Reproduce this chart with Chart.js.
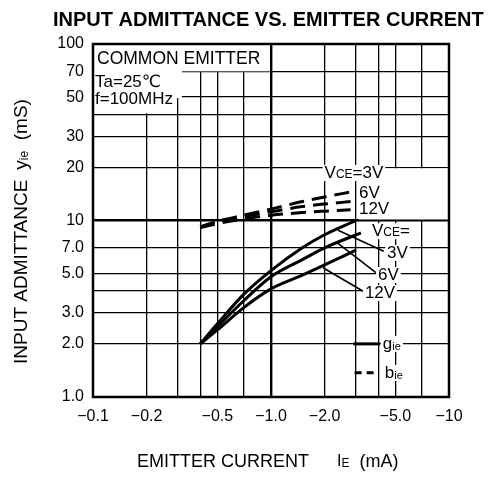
<!DOCTYPE html>
<html>
<head>
<meta charset="utf-8">
<script src="https://cdn.jsdelivr.net/npm/chart.js@4/dist/chart.umd.min.js"></script>
<style>
  html, body { margin: 0; padding: 0; background: #fff; }
</style>
</head>
<body>
<canvas id="chart" width="490" height="480"></canvas>
<script>
"use strict";
// grid / tick values (mA and mS, plotted as magnitudes)
var xGrid = [0.1, 0.2, 0.3, 0.4, 0.5, 0.7, 1, 2, 3, 4, 5, 7, 10];
var xTickLabels = ['\u22120.1', '\u22120.2', '', '', '\u22120.5', '', '\u22121.0', '\u22122.0', '', '', '\u22125.0', '', '\u221210'];
var yGrid = [1, 2, 3, 4, 5, 7, 10, 20, 30, 40, 50, 70, 100];
var yTickLabels = ['1.0', '2.0', '3.0', '', '5.0', '7.0', '10', '20', '30', '', '50', '70', '100'];

// gie (solid)
var gieCurrent = [0.4, 0.5, 0.7, 1.0, 1.5, 2.0, 3.0];
var gieCurrent6V = [0.4, 0.5, 0.7, 1.0, 1.5, 2.0, 3.2];
var gie3V = [2.0, 2.6, 3.8, 5.2, 7.0, 8.3, 10.0];
var gie6V = [2.0, 2.5, 3.5, 4.8, 6.0, 7.0, 8.5];
var gie12V = [2.0, 2.4, 3.2, 4.1, 4.9, 5.6, 6.8];

// bie (dashed)
var bieCurrent = [0.4, 0.5, 0.7, 1.0, 1.5, 2.0, 2.8];
var bie3V = [9.2, 9.9, 10.7, 11.6, 12.8, 13.6, 14.5];
var bie6V = [9.2, 9.8, 10.5, 11.2, 12.0, 12.4, 12.8];
var bie12V = [9.1, 9.6, 10.2, 10.7, 11.1, 11.3, 11.5];

var FONT = '"Liberation Sans", Arial, "DejaVu Sans", sans-serif';
function font(size, bold) { return (bold ? 'bold ' : '') + size + 'px ' + FONT; }

function pts(xs, ys) {
    return xs.map(function (x, i) { return { x: x, y: ys[i] }; });
}

function curve(data, dashed) {
    return {
        data: data,
        borderColor: '#000',
        borderWidth: 3,
        borderDash: dashed ? [15, 8] : [],
        pointRadius: 0,
        cubicInterpolationMode: 'monotone',
        fill: false
    };
}

// draw a run of text pieces: [text, size, dy, bold]
function drawRun(ctx, x, y, parts, bg) {
    var w = 0;
    parts.forEach(function (p) { ctx.font = font(p[1], p[3]); w += ctx.measureText(p[0]).width; });
    if (bg) {
        ctx.fillStyle = '#fff';
        ctx.fillRect(x - 2, y - 8, w + 4, 16);
    }
    ctx.fillStyle = '#000';
    ctx.textAlign = 'left';
    ctx.textBaseline = 'middle';
    parts.forEach(function (p) {
        ctx.font = font(p[1], p[3]);
        ctx.fillText(p[0], x, y + (p[2] || 0));
        x += ctx.measureText(p[0]).width;
    });
    return w;
}

var overlay = {
    id: 'overlay',
    beforeDatasetsDraw: function (chart) {
        var ctx = chart.ctx, a = chart.chartArea;
        var sx = chart.scales.x, sy = chart.scales.y;
        ctx.save();
        ctx.fillStyle = '#fff';
        // white-out behind the condition box
        ctx.fillRect(a.left + 1, a.top + 1, sx.getPixelForValue(1) - a.left - 2, sy.getPixelForValue(70) - a.top - 1);
        ctx.fillRect(a.left + 1, sy.getPixelForValue(70) - 1, sx.getPixelForValue(0.3) + 3 - a.left, sy.getPixelForValue(50) - sy.getPixelForValue(70) + 2);
        ctx.fillRect(a.left + 1, sy.getPixelForValue(50), sx.getPixelForValue(0.3) - 4 - a.left, sy.getPixelForValue(40) - sy.getPixelForValue(50) - 1);
        // white-out behind VCE labels
        ctx.fillRect(sx.getPixelForValue(3) + 3, sy.getPixelForValue(20) + 1, a.right - sx.getPixelForValue(3) - 4, sy.getPixelForValue(10) - sy.getPixelForValue(20) - 2);
        ctx.restore();
    },
    afterDatasetsDraw: function (chart) {
        var ctx = chart.ctx, a = chart.chartArea;
        var sx = chart.scales.x, sy = chart.scales.y;
        function px(v) { return sx.getPixelForValue(v); }
        function py(v) { return sy.getPixelForValue(v); }
        ctx.save();

        // frame
        ctx.strokeStyle = '#000';
        ctx.lineWidth = 2.5;
        ctx.strokeRect(a.left, a.top, a.right - a.left, a.bottom - a.top);

        // leaders
        ctx.lineWidth = 1.6;
        [[2.38, 8.8, 4.3, 6.7], [2.35, 7.5, 3.95, 5.0], [1.96, 5.4, 3.33, 3.95]].forEach(function (l) {
            ctx.beginPath();
            ctx.moveTo(px(l[0]), py(l[1]));
            ctx.lineTo(px(l[2]), py(l[3]));
            ctx.stroke();
        });

        // condition box text
        drawRun(ctx, a.left + 4, a.top + 15, [['COMMON EMITTER', 17.5]], false);
        drawRun(ctx, a.left + 2, a.top + 38, [['Ta=25\u2103', 17]], false);
        drawRun(ctx, a.left + 2, a.top + 55, [['f=100MHz', 17]], false);

        // curve labels
        drawRun(ctx, px(2.0), py(18.6), [['V', 17], ['CE', 12, 1.5], ['=3V', 17]], true);
        drawRun(ctx, px(3.12), py(14.3), [['6V', 17]], true);
        drawRun(ctx, px(3.12), py(11.5), [['12V', 17]], true);
        drawRun(ctx, px(3.69), py(8.7), [['V', 17], ['CE', 12, 1.5], ['=', 17]], true);
        drawRun(ctx, px(4.49), py(6.55), [['3V', 17]], true);
        drawRun(ctx, px(3.99), py(4.91), [['6V', 17]], true);
        drawRun(ctx, px(3.37), py(3.88), [['12V', 17]], true);

        // legend
        ctx.lineWidth = 3;
        ctx.beginPath();
        ctx.moveTo(px(2.9), py(2.0));
        ctx.lineTo(px(4.1), py(2.0));
        ctx.stroke();
        drawRun(ctx, px(4.25), py(2.0), [['g', 17], ['ie', 11, 3]], true);
        ctx.setLineDash([7, 5]);
        ctx.beginPath();
        ctx.moveTo(px(2.95), py(1.37));
        ctx.lineTo(px(4.0), py(1.37));
        ctx.stroke();
        ctx.setLineDash([]);
        drawRun(ctx, px(4.36), py(1.37), [['b', 17], ['ie', 11, 3]], true);
        ctx.restore();
    },
    afterDraw: function (chart) {
        var ctx = chart.ctx;
        ctx.save();
        // title
        drawRun(ctx, 53, 20, [['INPUT ADMITTANCE VS. EMITTER CURRENT', 20, 0, true]], false);
        // x axis title
        drawRun(ctx, 137, 462, [['EMITTER CURRENT', 18]], false);
        drawRun(ctx, 337, 462, [['I', 16], ['E', 12, 1.5], ['  (mA)', 18]], false);
        // y axis title
        ctx.translate(22, 364);
        ctx.rotate(-Math.PI / 2);
        var w = drawRun(ctx, 0, 0, [['INPUT ADMITTANCE', 19]], false);
        drawRun(ctx, w + 10, 0, [['y', 19], ['ie', 12, 3], ['  (mS)', 19]], false);
        ctx.restore();
    }
};

function gridWidth(strongValue) {
    return function (c) { return c.tick && c.tick.value === strongValue ? 2.4 : 1.3; };
}

new Chart(document.getElementById('chart'), {
    type: 'line',
    data: {
        datasets: [
            curve(pts(gieCurrent, gie3V), false),
            curve(pts(gieCurrent6V, gie6V), false),
            curve(pts(gieCurrent, gie12V), false),
            curve(pts(bieCurrent, bie3V), true),
            curve(pts(bieCurrent, bie6V), true),
            curve(pts(bieCurrent, bie12V), true)
        ]
    },
    options: {
        responsive: false,
        animation: false,
        layout: { padding: { left: 0, right: 41, top: 44, bottom: 0 } },
        plugins: { legend: { display: false }, tooltip: { enabled: false } },
        scales: {
            x: {
                type: 'logarithmic',
                min: 0.1,
                max: 10,
                afterBuildTicks: function (s) { s.ticks = xGrid.map(function (v) { return { value: v }; }); },
                afterFit: function (s) { s.height = 83; },
                border: { display: false },
                grid: { color: '#000', lineWidth: gridWidth(1), drawTicks: false },
                ticks: {
                    autoSkip: false,
                    maxRotation: 0,
                    padding: 10,
                    color: '#000',
                    font: { family: FONT, size: 16 },
                    callback: function (v, i) { return xTickLabels[i]; }
                }
            },
            y: {
                type: 'logarithmic',
                min: 1,
                max: 100,
                afterBuildTicks: function (s) { s.ticks = yGrid.map(function (v) { return { value: v }; }); },
                afterFit: function (s) { s.width = 93; },
                border: { display: false },
                grid: { color: '#000', lineWidth: gridWidth(10), drawTicks: false },
                ticks: {
                    autoSkip: false,
                    padding: 9,
                    color: '#000',
                    font: { family: FONT, size: 16 },
                    callback: function (v, i) { return yTickLabels[i]; }
                }
            }
        }
    },
    plugins: [overlay]
});
</script>
</body>
</html>
